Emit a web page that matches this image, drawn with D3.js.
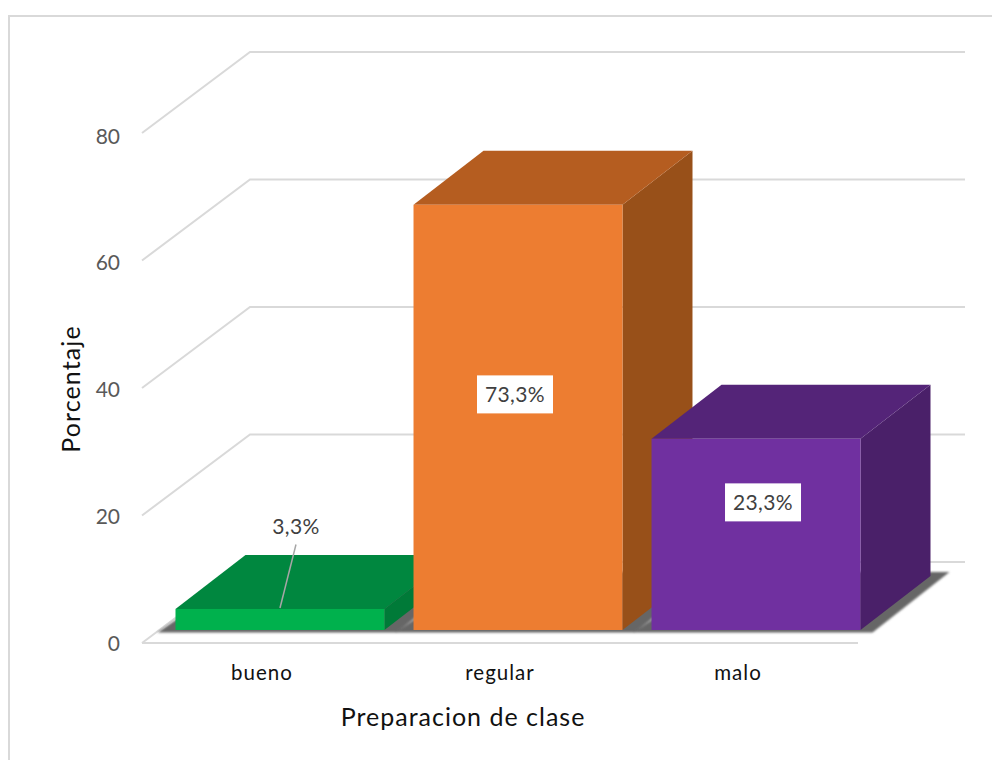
<!DOCTYPE html>
<html><head><meta charset="utf-8">
<script src="https://cdn.jsdelivr.net/npm/d3@7/dist/d3.min.js"></script>
<style>html,body{margin:0;padding:0;background:#fff}svg{display:block}</style></head>
<body><div id="c"></div>
<script>
const categories = ["bueno","regular","malo"];
const barValues = [3.3,66.7,30];
const barLabels = ["3,3%","73,3%","23,3%"];
const yTicks = [0,20,40,60,80];
const faceColors = ["#00B14D","#ED7D31","#7030A0"];
const topColors = ["#00873F","#B55D20","#542478"];
const sideColors = ["#007A38","#985019","#4A2069"];
const xTitle = "Preparacion de clase";
const yTitle = "Porcentaje";

const W=992,H=760,font="Lato, Carlito, sans-serif";
const svg=d3.select("#c").append("svg").attr("width",W).attr("height",H);
const defs=svg.append("defs");
defs.append("filter").attr("id","blur").attr("x","-10%").attr("y","-10%").attr("width","120%").attr("height","120%")
  .append("feGaussianBlur").attr("stdDeviation",1.3);

svg.append("rect").attr("x",9).attr("y",16).attr("width",1100).attr("height",900)
  .attr("fill","#fff").attr("stroke","#d9d9d9").attr("stroke-width",2);

const y=d3.scaleLinear().domain([0,80]).range([643,133]);
const yLabel=y.copy().range([642.5,135.5]);
const x=d3.scaleBand().domain(categories).range([175.5,860.5]).paddingInner(0.122).paddingOuter(0);
const floorDx=108,floorDy=-81,gridRight=965,barDx=70,barDy=-54,barLift=13,frontLeft=142,frontRight=858;
const base=y(0)-barLift;
const h=d=>y(0)-y(d);

// gridlines
svg.append("g").selectAll("path").data(yTicks).join("path")
  .attr("d",d=>d3.line()([[frontLeft,y(d)],[frontLeft+floorDx,y(d)+floorDy],[gridRight,y(d)+floorDy]]))
  .attr("fill","none").attr("stroke","#d9d9d9").attr("stroke-width",2);
svg.append("line").attr("x1",frontLeft).attr("x2",frontRight).attr("y1",y(0)).attr("y2",y(0))
  .attr("stroke","#d9d9d9").attr("stroke-width",2);

// floor shadows
const shadow=svg.append("g").attr("filter","url(#blur)");
shadow.selectAll("path").data(categories).join("path")
  .attr("d",c=>{const l=x(c),r=l+x.bandwidth();return d3.line()([
    [l-18,base+2.5],[r+12,base+2.5],[r+barDx+19,base+barDy-4],[l+barDx,base+barDy-4]])})
  .attr("fill","#666");

// bars
const bars=svg.append("g").selectAll("g").data(categories).join("g");
bars.append("path").attr("fill",(c,i)=>sideColors[i]).attr("d",(c,i)=>{
  const r=x(c)+x.bandwidth(),b=base,t=base-h(barValues[i]);
  return d3.line()([[r,b],[r,t],[r+barDx,t+barDy],[r+barDx,b+barDy]])});
bars.append("path").attr("fill",(c,i)=>topColors[i]).attr("d",(c,i)=>{
  const l=x(c),r=l+x.bandwidth(),t=base-h(barValues[i]);
  return d3.line()([[l,t],[r,t],[r+barDx,t+barDy],[l+barDx,t+barDy]])});
bars.append("rect").attr("fill",(c,i)=>faceColors[i])
  .attr("x",c=>x(c)).attr("width",x.bandwidth())
  .attr("y",(c,i)=>base-h(barValues[i])).attr("height",(c,i)=>h(barValues[i]));

// axes
const yAxis=svg.append("g").attr("transform","translate(120,0)")
  .call(d3.axisLeft(yLabel).tickValues(yTicks).tickSize(0).tickPadding(0).tickFormat(d3.format("d")));
yAxis.select(".domain").remove();
yAxis.selectAll("text").attr("font-family",font).attr("font-size",21).attr("fill","#595959").attr("dy","0.36em");
const xAxis=svg.append("g").attr("transform","translate(-18,"+(y(0)+22)+")")
  .call(d3.axisBottom(x).tickSize(0).tickPadding(0));
xAxis.select(".domain").remove();
xAxis.selectAll("text").attr("font-family",font).attr("font-size",20.5).attr("letter-spacing",1).attr("fill","#111").attr("dy","0.72em");

svg.append("text").text(xTitle).attr("x",463).attr("y",726).attr("text-anchor","middle").attr("letter-spacing",1)
  .attr("font-family",font).attr("font-size",25).attr("fill","#111");
svg.append("text").text(yTitle).attr("transform","translate(80,389) rotate(-90)").attr("text-anchor","middle").attr("letter-spacing",1.1)
  .attr("font-family",font).attr("font-size",25).attr("fill","#111");

// data labels
const labelShift=[[16,-93],[-3,-23],[7,-32]];
const labels=svg.append("g");
categories.forEach((c,i)=>{
  const cx=x(c)+x.bandwidth()/2+labelShift[i][0];
  const cy=base-h(barValues[i])/2+labelShift[i][1];
  if(i===0){
    labels.append("line").attr("x1",cx).attr("y1",cy+18).attr("x2",cx-16).attr("y2",base-h(barValues[i])-1)
      .attr("stroke","#a6a6a6").attr("stroke-width",1.5);
  } else {
    labels.append("rect").attr("x",cx-38).attr("y",cy-19).attr("width",76).attr("height",38).attr("fill","#fff");
  }
  labels.append("text").text(barLabels[i]).attr("x",cx).attr("y",cy).attr("dy","0.36em").attr("text-anchor","middle").attr("letter-spacing",0.4)
    .attr("font-family",font).attr("font-size",21).attr("fill","#404040");
});
</script></body></html>
